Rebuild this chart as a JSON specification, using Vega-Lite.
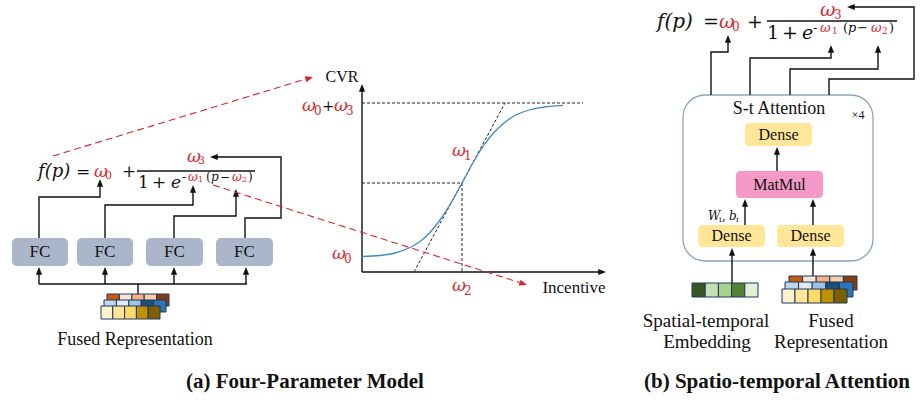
{
"$schema": "https://vega.github.io/schema/vega-lite/v6.json",
"width": 920, "height": 400, "padding": 0, "autosize": {"type": "none"},
"background": "white",
"config": {"view": {"stroke": null}},
"datasets": {
"frame": [{"x": 683, "x2": 873, "y": 95, "y2": 261}],
"fc": [{"x": 12, "x2": 68, "y": 238, "y2": 266}, {"x": 77, "x2": 133, "y": 238, "y2": 266}, {"x": 146, "x2": 203, "y": 238, "y2": 266}, {"x": 216, "x2": 273, "y": 238, "y2": 266}],
"blocks": [{"k": "dense", "x": 745, "x2": 812, "y": 123, "y2": 146}, {"k": "matmul", "x": 736, "x2": 823, "y": 171, "y2": 198}, {"k": "dense", "x": 698, "x2": 765, "y": 225, "y2": 247}, {"k": "dense", "x": 777, "x2": 844, "y": 225, "y2": 247}],
"cells": [
{"k": "o1", "x": 107, "x2": 119.4, "y": 294, "y2": 306}, {"k": "o2", "x": 119.4, "x2": 131.8, "y": 294, "y2": 306}, {"k": "o3", "x": 131.8, "x2": 144.2, "y": 294, "y2": 306}, {"k": "o4", "x": 144.2, "x2": 156.6, "y": 294, "y2": 306}, {"k": "o5", "x": 156.6, "x2": 169, "y": 294, "y2": 306},
{"k": "b1", "x": 104, "x2": 116.4, "y": 300, "y2": 312}, {"k": "b2", "x": 116.4, "x2": 128.8, "y": 300, "y2": 312}, {"k": "b3", "x": 128.8, "x2": 141.2, "y": 300, "y2": 312}, {"k": "b4", "x": 141.2, "x2": 153.6, "y": 300, "y2": 312}, {"k": "b5", "x": 153.6, "x2": 166, "y": 300, "y2": 312},
{"k": "y1", "x": 101, "x2": 112.8, "y": 306, "y2": 319}, {"k": "y2", "x": 112.8, "x2": 124.6, "y": 306, "y2": 319}, {"k": "y3", "x": 124.6, "x2": 136.4, "y": 306, "y2": 319}, {"k": "y4", "x": 136.4, "x2": 148.2, "y": 306, "y2": 319}, {"k": "y5", "x": 148.2, "x2": 160, "y": 306, "y2": 319},
{"k": "o1", "x": 789, "x2": 802.6, "y": 276, "y2": 290}, {"k": "o2", "x": 802.6, "x2": 816.2, "y": 276, "y2": 290}, {"k": "o3", "x": 816.2, "x2": 829.8, "y": 276, "y2": 290}, {"k": "o4", "x": 829.8, "x2": 843.4, "y": 276, "y2": 290}, {"k": "o5", "x": 843.4, "x2": 857, "y": 276, "y2": 290},
{"k": "b1", "x": 785, "x2": 798.6, "y": 282, "y2": 297}, {"k": "b2", "x": 798.6, "x2": 812.2, "y": 282, "y2": 297}, {"k": "b3", "x": 812.2, "x2": 825.8, "y": 282, "y2": 297}, {"k": "b4", "x": 825.8, "x2": 839.4, "y": 282, "y2": 297}, {"k": "b5", "x": 839.4, "x2": 853, "y": 282, "y2": 297},
{"k": "y1", "x": 782, "x2": 795, "y": 289, "y2": 303}, {"k": "y2", "x": 795, "x2": 808, "y": 289, "y2": 303}, {"k": "y3", "x": 808, "x2": 821, "y": 289, "y2": 303}, {"k": "y4", "x": 821, "x2": 834, "y": 289, "y2": 303}, {"k": "y5", "x": 834, "x2": 847, "y": 289, "y2": 303},
{"k": "g1", "x": 692, "x2": 705.2, "y": 283, "y2": 297}, {"k": "g2", "x": 705.2, "x2": 718.4, "y": 283, "y2": 297}, {"k": "g3", "x": 718.4, "x2": 731.6, "y": 283, "y2": 297}, {"k": "g4", "x": 731.6, "x2": 744.8, "y": 283, "y2": 297}, {"k": "g5", "x": 744.8, "x2": 758, "y": 283, "y2": 297}
],
"paths": [
{"id": "a1", "o": 1, "x": 39, "y": 238}, {"id": "a1", "o": 2, "x": 39, "y": 197}, {"id": "a1", "o": 3, "x": 100, "y": 197}, {"id": "a1", "o": 4, "x": 100, "y": 185},
{"id": "a2", "o": 1, "x": 105, "y": 238}, {"id": "a2", "o": 2, "x": 105, "y": 205}, {"id": "a2", "o": 3, "x": 193, "y": 205}, {"id": "a2", "o": 4, "x": 193, "y": 191},
{"id": "a3", "o": 1, "x": 174, "y": 238}, {"id": "a3", "o": 2, "x": 174, "y": 216}, {"id": "a3", "o": 3, "x": 236, "y": 216}, {"id": "a3", "o": 4, "x": 236, "y": 195},
{"id": "a4", "o": 1, "x": 245, "y": 238}, {"id": "a4", "o": 2, "x": 245, "y": 218}, {"id": "a4", "o": 3, "x": 281, "y": 218}, {"id": "a4", "o": 4, "x": 281, "y": 157}, {"id": "a4", "o": 5, "x": 216, "y": 157},
{"id": "a5", "o": 1, "x": 39, "y": 284}, {"id": "a5", "o": 2, "x": 247, "y": 284},
{"id": "a6", "o": 1, "x": 138, "y": 294}, {"id": "a6", "o": 2, "x": 138, "y": 284},
{"id": "a7", "o": 1, "x": 39, "y": 284}, {"id": "a7", "o": 2, "x": 39, "y": 273},
{"id": "a8", "o": 1, "x": 105, "y": 284}, {"id": "a8", "o": 2, "x": 105, "y": 273},
{"id": "a9", "o": 1, "x": 174, "y": 284}, {"id": "a9", "o": 2, "x": 174, "y": 273},
{"id": "a10", "o": 1, "x": 246, "y": 284}, {"id": "a10", "o": 2, "x": 246, "y": 273},
{"id": "ay", "o": 1, "x": 362, "y": 272}, {"id": "ay", "o": 2, "x": 362, "y": 90},
{"id": "ax", "o": 1, "x": 362, "y": 272}, {"id": "ax", "o": 2, "x": 600, "y": 272},
{"id": "f1", "o": 1, "x": 137, "y": 171}, {"id": "f1", "o": 2, "x": 255, "y": 171},
{"id": "f2", "o": 1, "x": 767, "y": 21}, {"id": "f2", "o": 2, "x": 897, "y": 21},
{"id": "b1", "o": 1, "x": 711, "y": 95}, {"id": "b1", "o": 2, "x": 711, "y": 52}, {"id": "b1", "o": 3, "x": 728, "y": 52}, {"id": "b1", "o": 4, "x": 728, "y": 41},
{"id": "b2", "o": 1, "x": 750, "y": 95}, {"id": "b2", "o": 2, "x": 750, "y": 58}, {"id": "b2", "o": 3, "x": 831, "y": 58}, {"id": "b2", "o": 4, "x": 831, "y": 51},
{"id": "b3", "o": 1, "x": 790, "y": 95}, {"id": "b3", "o": 2, "x": 790, "y": 69}, {"id": "b3", "o": 3, "x": 878, "y": 69}, {"id": "b3", "o": 4, "x": 878, "y": 51},
{"id": "b4", "o": 1, "x": 829, "y": 95}, {"id": "b4", "o": 2, "x": 829, "y": 79}, {"id": "b4", "o": 3, "x": 914, "y": 79}, {"id": "b4", "o": 4, "x": 914, "y": 7}, {"id": "b4", "o": 5, "x": 853, "y": 7},
{"id": "b5", "o": 1, "x": 777, "y": 171}, {"id": "b5", "o": 2, "x": 777, "y": 153},
{"id": "b6", "o": 1, "x": 745, "y": 225}, {"id": "b6", "o": 2, "x": 745, "y": 205},
{"id": "b7", "o": 1, "x": 813, "y": 225}, {"id": "b7", "o": 2, "x": 813, "y": 205},
{"id": "b8", "o": 1, "x": 732, "y": 297}, {"id": "b8", "o": 2, "x": 732, "y": 254},
{"id": "b9", "o": 1, "x": 813, "y": 290}, {"id": "b9", "o": 2, "x": 813, "y": 254}
],
"heads": [
{"x": 100, "y": 179, "a": 0}, {"x": 193, "y": 185, "a": 0}, {"x": 236, "y": 189, "a": 0}, {"x": 210, "y": 157, "a": 270},
{"x": 39, "y": 267, "a": 0}, {"x": 105, "y": 267, "a": 0}, {"x": 174, "y": 267, "a": 0}, {"x": 246, "y": 267, "a": 0},
{"x": 362, "y": 84, "a": 0}, {"x": 606, "y": 272, "a": 90},
{"x": 728, "y": 35, "a": 0}, {"x": 831, "y": 45, "a": 0}, {"x": 878, "y": 45, "a": 0}, {"x": 847, "y": 7, "a": 270},
{"x": 777, "y": 147, "a": 0}, {"x": 745, "y": 199, "a": 0}, {"x": 813, "y": 199, "a": 0}, {"x": 732, "y": 248, "a": 0}, {"x": 813, "y": 248, "a": 0}
],
"redheads": [{"x": 313, "y": 77, "a": 73}, {"x": 527, "y": 285, "a": 108}],
"guides": [{"x": 362, "y": 103, "x2": 583, "y2": 103}, {"x": 362, "y": 183, "x2": 462, "y2": 183}, {"x": 462, "y": 183, "x2": 462, "y2": 272}, {"x": 414, "y": 272, "x2": 505, "y2": 103}],
"rdash": [{"x": 53, "y": 156, "x2": 306, "y2": 79}, {"x": 213, "y": 185, "x2": 520, "y2": 282.6}],
"curve": [{"x": 362, "y": 256.5}, {"x": 380, "y": 255.5}, {"x": 395, "y": 253}, {"x": 410, "y": 247.5}, {"x": 420, "y": 241.5}, {"x": 430, "y": 232.5}, {"x": 440, "y": 220}, {"x": 450, "y": 204.5}, {"x": 462, "y": 183}, {"x": 474, "y": 161}, {"x": 484, "y": 145}, {"x": 494, "y": 132.5}, {"x": 504, "y": 123}, {"x": 514, "y": 116}, {"x": 529, "y": 110}, {"x": 544, "y": 107}, {"x": 563, "y": 105.3}],
"labels": [
{"t": "FC", "x": 40, "y": 252, "s": 17}, {"t": "FC", "x": 105, "y": 252, "s": 17}, {"t": "FC", "x": 174.5, "y": 252, "s": 17}, {"t": "FC", "x": 244.5, "y": 252, "s": 17},
{"t": "Fused Representation", "x": 135, "y": 340, "s": 18},
{"t": "CVR", "x": 342, "y": 77, "s": 16}, {"t": "Incentive", "x": 574, "y": 288, "s": 17},
{"t": "S-t Attention", "x": 779, "y": 109, "s": 18}, {"t": "×4", "x": 858, "y": 115, "s": 12},
{"t": "Dense", "x": 778.5, "y": 135, "s": 16}, {"t": "MatMul", "x": 779.5, "y": 185, "s": 16}, {"t": "Dense", "x": 731.5, "y": 236, "s": 16}, {"t": "Dense", "x": 810.5, "y": 236, "s": 16},
{"t": "Spatial-temporal", "x": 706, "y": 321, "s": 19}, {"t": "Embedding", "x": 707, "y": 342, "s": 19}, {"t": "Fused", "x": 831, "y": 321, "s": 19}, {"t": "Representation", "x": 831, "y": 342, "s": 19}
],
"mathi": [
{"t": "f(p)", "x": 38, "y": 172, "s": 18, "c": "k"},
{"t": "ω", "x": 94, "y": 172, "s": 17, "c": "r"},
{"t": "ω", "x": 187, "y": 157, "s": 17, "c": "r"},
{"t": "e", "x": 171, "y": 183, "s": 17, "c": "k"},
{"t": "ω", "x": 188, "y": 177, "s": 12, "c": "r"},
{"t": "p", "x": 211, "y": 177, "s": 12, "c": "k"},
{"t": "ω", "x": 232, "y": 177, "s": 12, "c": "r"},
{"t": "f(p)", "x": 657, "y": 22, "s": 20, "c": "k"},
{"t": "ω", "x": 719, "y": 22, "s": 19, "c": "r"},
{"t": "ω", "x": 820, "y": 10, "s": 19, "c": "r"},
{"t": "e", "x": 802, "y": 33, "s": 19, "c": "k"},
{"t": "ω", "x": 820, "y": 28, "s": 13, "c": "r"},
{"t": "p", "x": 848, "y": 28, "s": 13, "c": "k"},
{"t": "ω", "x": 871, "y": 28, "s": 13, "c": "r"},
{"t": "ω", "x": 332, "y": 254, "s": 17, "c": "r"},
{"t": "ω", "x": 302, "y": 106, "s": 17, "c": "r"},
{"t": "ω", "x": 334, "y": 106, "s": 17, "c": "r"},
{"t": "ω", "x": 452, "y": 151, "s": 17, "c": "r"},
{"t": "ω", "x": 452, "y": 286, "s": 17, "c": "r"},
{"t": "W", "x": 708, "y": 216, "s": 12, "c": "k"},
{"t": "b", "x": 729, "y": 216, "s": 12, "c": "k"},
{"t": "i", "x": 736, "y": 220, "s": 8, "c": "k"}
],
"mathu": [
{"t": "=", "x": 76, "y": 172, "s": 17, "c": "k"},
{"t": "0", "x": 105, "y": 176, "s": 11, "c": "r"},
{"t": "+", "x": 122, "y": 172, "s": 17, "c": "k"},
{"t": "3", "x": 198, "y": 161, "s": 11, "c": "r"},
{"t": "1", "x": 138, "y": 183, "s": 17, "c": "k"},
{"t": "+", "x": 152, "y": 183, "s": 17, "c": "k"},
{"t": "-", "x": 182, "y": 177, "s": 12, "c": "k"},
{"t": "1", "x": 198, "y": 180, "s": 8, "c": "r"},
{"t": "(", "x": 206, "y": 177, "s": 12, "c": "k"},
{"t": "−", "x": 220, "y": 177, "s": 12, "c": "k"},
{"t": "2", "x": 242, "y": 180, "s": 8, "c": "r"},
{"t": ")", "x": 248, "y": 177, "s": 12, "c": "k"},
{"t": "=", "x": 703, "y": 22, "s": 19, "c": "k"},
{"t": "0", "x": 732, "y": 27, "s": 12, "c": "r"},
{"t": "+", "x": 747, "y": 22, "s": 19, "c": "k"},
{"t": "3", "x": 834, "y": 15, "s": 12, "c": "r"},
{"t": "1", "x": 767, "y": 33, "s": 19, "c": "k"},
{"t": "+", "x": 782, "y": 33, "s": 19, "c": "k"},
{"t": "-", "x": 813, "y": 28, "s": 13, "c": "k"},
{"t": "1", "x": 832, "y": 31, "s": 9, "c": "r"},
{"t": "(", "x": 843, "y": 28, "s": 13, "c": "k"},
{"t": "−", "x": 857, "y": 28, "s": 13, "c": "k"},
{"t": "2", "x": 882, "y": 31, "s": 9, "c": "r"},
{"t": ")", "x": 889, "y": 28, "s": 13, "c": "k"},
{"t": "0", "x": 344, "y": 259, "s": 12, "c": "r"},
{"t": "0", "x": 314, "y": 111, "s": 12, "c": "r"},
{"t": "+", "x": 322, "y": 106, "s": 15, "c": "k"},
{"t": "3", "x": 346, "y": 111, "s": 12, "c": "r"},
{"t": "1", "x": 464, "y": 156, "s": 12, "c": "r"},
{"t": "2", "x": 464, "y": 291, "s": 12, "c": "r"},
{"t": "i", "x": 719, "y": 220, "s": 8, "c": "k"},
{"t": ",", "x": 722, "y": 216, "s": 12, "c": "k"}
],
"captions": [{"t": "(a) Four-Parameter Model", "x": 305, "y": 382}, {"t": "(b) Spatio-temporal Attention", "x": 777, "y": 382}]
},
"layer": [
{"data": {"name": "frame"}, "mark": {"type": "rect", "cornerRadius": 22, "fill": "white", "stroke": "#8fa3c3", "strokeWidth": 1.3},
 "encoding": {"x": {"field": "x", "type": "quantitative", "scale": {"domain": [0, 920], "nice": false, "zero": false}, "axis": null}, "x2": {"field": "x2"}, "y": {"field": "y", "type": "quantitative", "scale": {"domain": [0, 400], "nice": false, "zero": false, "reverse": true}, "axis": null}, "y2": {"field": "y2"}}},
{"data": {"name": "fc"}, "mark": {"type": "rect", "cornerRadius": 5, "fill": "#abb6ca"},
 "encoding": {"x": {"field": "x", "type": "quantitative"}, "x2": {"field": "x2"}, "y": {"field": "y", "type": "quantitative"}, "y2": {"field": "y2"}}},
{"data": {"name": "blocks"}, "mark": {"type": "rect", "cornerRadius": 4},
 "encoding": {"x": {"field": "x", "type": "quantitative"}, "x2": {"field": "x2"}, "y": {"field": "y", "type": "quantitative"}, "y2": {"field": "y2"},
  "fill": {"field": "k", "type": "nominal", "scale": {"domain": ["dense", "matmul"], "range": ["#ffe699", "#f59ac8"]}, "legend": null}}},
{"data": {"name": "paths"}, "mark": {"type": "line", "color": "#111111", "strokeWidth": 1.4},
 "encoding": {"x": {"field": "x", "type": "quantitative"}, "y": {"field": "y", "type": "quantitative"}, "detail": {"field": "id"}, "order": {"field": "o"}}},
{"data": {"name": "cells"}, "mark": {"type": "rect", "stroke": "#22375a", "strokeWidth": 1},
 "encoding": {"x": {"field": "x", "type": "quantitative"}, "x2": {"field": "x2"}, "y": {"field": "y", "type": "quantitative"}, "y2": {"field": "y2"},
  "color": {"field": "k", "type": "nominal", "scale": {"domain": ["o1", "o2", "o3", "o4", "o5", "b1", "b2", "b3", "b4", "b5", "y1", "y2", "y3", "y4", "y5", "g1", "g2", "g3", "g4", "g5"], "range": ["#c55a11", "#fbe5d6", "#f4b183", "#f8cbad", "#843c0c", "#bdd7ee", "#deebf7", "#9dc3e6", "#1f4e79", "#2e75b6", "#fff2cc", "#ffe699", "#ffd966", "#bf9000", "#7f6000", "#385723", "#c5e0b4", "#a9d18e", "#548235", "#e2f0d9"]}, "legend": null}}},
{"data": {"name": "heads"}, "mark": {"type": "point", "shape": "M0,0L-0.8,2L0.8,2Z", "filled": true, "color": "#111111", "size": 60, "opacity": 1},
 "encoding": {"x": {"field": "x", "type": "quantitative"}, "y": {"field": "y", "type": "quantitative"}, "angle": {"field": "a", "type": "quantitative", "scale": null}}},
{"data": {"name": "guides"}, "mark": {"type": "rule", "color": "#222222", "strokeWidth": 1, "strokeDash": [3, 2]},
 "encoding": {"x": {"field": "x", "type": "quantitative"}, "x2": {"field": "x2"}, "y": {"field": "y", "type": "quantitative"}, "y2": {"field": "y2"}}},
{"data": {"name": "curve"}, "mark": {"type": "line", "color": "#3f88c5", "strokeWidth": 1.3, "interpolate": "monotone"},
 "encoding": {"x": {"field": "x", "type": "quantitative"}, "y": {"field": "y", "type": "quantitative"}}},
{"data": {"name": "rdash"}, "mark": {"type": "rule", "color": "#d7282f", "strokeWidth": 1.1, "strokeDash": [7, 4]},
 "encoding": {"x": {"field": "x", "type": "quantitative"}, "x2": {"field": "x2"}, "y": {"field": "y", "type": "quantitative"}, "y2": {"field": "y2"}}},
{"data": {"name": "redheads"}, "mark": {"type": "point", "shape": "M0,0L-0.8,2L0.8,2Z", "filled": true, "color": "#d7282f", "size": 60, "opacity": 1},
 "encoding": {"x": {"field": "x", "type": "quantitative"}, "y": {"field": "y", "type": "quantitative"}, "angle": {"field": "a", "type": "quantitative", "scale": null}}},
{"data": {"name": "labels"}, "mark": {"type": "text", "font": "Liberation Serif", "align": "center", "baseline": "middle", "color": "#111111"},
 "encoding": {"x": {"field": "x", "type": "quantitative"}, "y": {"field": "y", "type": "quantitative"}, "text": {"field": "t"}, "size": {"field": "s", "type": "quantitative", "scale": null}}},
{"data": {"name": "mathi"}, "mark": {"type": "text", "font": "DejaVu Serif", "fontStyle": "italic", "align": "left", "baseline": "middle"},
 "encoding": {"x": {"field": "x", "type": "quantitative"}, "y": {"field": "y", "type": "quantitative"}, "text": {"field": "t"}, "size": {"field": "s", "type": "quantitative", "scale": null},
  "fill": {"field": "c", "type": "nominal", "scale": {"domain": ["k", "r"], "range": ["#111111", "#d7282f"]}, "legend": null}}},
{"data": {"name": "mathu"}, "mark": {"type": "text", "font": "DejaVu Serif", "align": "left", "baseline": "middle"},
 "encoding": {"x": {"field": "x", "type": "quantitative"}, "y": {"field": "y", "type": "quantitative"}, "text": {"field": "t"}, "size": {"field": "s", "type": "quantitative", "scale": null},
  "fill": {"field": "c", "type": "nominal", "scale": {"domain": ["k", "r"], "range": ["#111111", "#d7282f"]}, "legend": null}}},
{"data": {"name": "captions"}, "mark": {"type": "text", "font": "Liberation Serif", "fontWeight": "bold", "fontSize": 21, "align": "center", "baseline": "middle", "color": "#111111"},
 "encoding": {"x": {"field": "x", "type": "quantitative"}, "y": {"field": "y", "type": "quantitative"}, "text": {"field": "t"}}}
],
"resolve": {"scale": {"color": "independent", "fill": "independent"}}
}
